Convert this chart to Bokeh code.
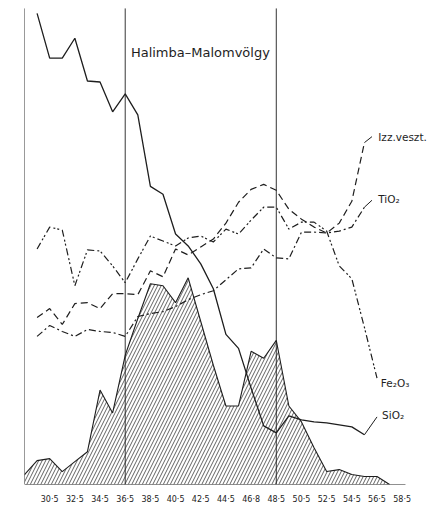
from bokeh.plotting import figure
from bokeh.models import Range1d, FixedTicker, Label
from bokeh.embed import file_html
from bokeh.resources import INLINE

# depth positions (x) of the samples
depth = [29.5, 30.5, 31.5, 32.5, 33.5, 34.5, 35.5, 36.5, 37.5, 38.5, 39.5, 40.5, 41.5,
         42.5, 43.5, 44.5, 45.5, 46.5, 47.5, 48.5, 49.5, 50.5, 51.5, 52.5, 53.5, 54.5, 55.5]

# relative values (arbitrary vertical units)
sio2 = [474, 429, 429, 449, 406, 405, 375, 393, 372, 300, 292, 252, 240,
        222, 197, 151, 137, 97, 59, 52, 69, 65, 63, 62, 60, 58, 50]
izz = [168, 177, 161, 182, 183, 177, 192, 192, 191, 215, 209, 237, 231,
       239, 247, 263, 284, 297, 302, 296, 277, 267, 259, 253, 263, 285, 344]
tio2 = [149, 160, 154, 149, 156, 154, 153, 149, 169, 172, 174, 179, 186,
        191, 195, 206, 217, 218, 237, 228, 227, 254, 254, 253, 255, 259, 279]
fe_depth = depth + [56.5]
fe2o3 = [237, 259, 256, 200, 236, 235, 220, 203, 227, 250, 245, 240, 248,
         250, 244, 257, 252, 266, 279, 279, 257, 264, 264, 255, 220, 207, 158, 107]

# hatched (shaded) profile
h_depth = [28.5, 29.5, 30.5, 31.5, 32.5, 33.5, 34.5, 35.5, 36.5, 37.5, 38.5, 39.5, 40.5, 41.5,
           42.5, 43.5, 44.5, 45.5, 46.5, 47.5, 48.5, 49.5, 50.5, 51.5, 52.5, 53.5, 54.5,
           55.5, 56.5, 57.5]
h_vals = [10, 24, 26, 13, 23, 33, 95, 72, 130, 167, 202, 200, 183, 208,
          164, 120, 79, 79, 134, 127, 145, 79, 63, 37, 13, 15, 10, 8, 8, 0]

# boundary lines
bounds = [28.5, 36.5, 48.5]

tick_pos = [30.5, 32.5, 34.5, 36.5, 38.5, 40.5, 42.5, 44.5, 46.5, 48.5, 50.5, 52.5, 54.5, 56.5, 58.5]
tick_labels = ["30·5", "32·5", "34·5", "36·5", "38·5", "40·5", "42·5", "44·5", "46·8",
               "48·5", "50·5", "52·5", "54·5", "56·5", "58·5"]
axis_start, axis_end = 28.5, 58.76

# series labels and their anchor positions
series_labels = ["Izz.veszt.", "TiO₂", "Fe₂O₃", "SiO₂"]
label_x = [56.6, 56.6, 56.8, 56.9]
label_y = [350, 287, 102, 70]
title_text = "Halimba–Malomvölgy"

TOP = 479
YMAX = 487

p = figure(width=430, height=506, output_backend="svg", toolbar_location=None,
           x_range=Range1d(28.5, 60.59), y_range=Range1d(0, YMAX),
           min_border_left=24, min_border_right=2, min_border_top=0, min_border_bottom=19)
p.outline_line_color = None
p.xgrid.visible = False
p.ygrid.visible = False
p.yaxis.visible = False
p.background_fill_color = "white"

ax = p.xaxis[0]
ax.ticker = FixedTicker(ticks=tick_pos)
ax.major_label_overrides = {t: l for t, l in zip(tick_pos, tick_labels)}
ax.major_tick_out = 0
ax.major_tick_in = 0
ax.minor_tick_out = 0
ax.minor_tick_in = 0
ax.major_label_standoff = 10
ax.major_label_text_font = "DejaVu Sans"
ax.major_label_text_font_size = "8px"
ax.major_label_text_color = "#222222"
ax.axis_line_color = None

INK = "#1e1e1e"

# baseline (drawn only over the data span)
p.segment(x0=[axis_start], y0=[0], x1=[axis_end], y1=[0], line_color="#222222", line_width=1.2)

# hatched area
p.varea(x=h_depth, y1=[0] * len(h_depth), y2=h_vals, fill_color=None,
        hatch_pattern="/", hatch_color=INK, hatch_weight=0.7, hatch_scale=7)
p.line(h_depth, h_vals, line_color=INK, line_width=1.1)

# vertical boundaries
p.segment(x0=bounds, y0=[0] * 3, x1=bounds, y1=[TOP] * 3, line_color=INK, line_width=0.9)

# series
p.line(depth, sio2, line_color=INK, line_width=1.3)
p.line(depth, izz, line_color=INK, line_width=1.2, line_dash="7 4")
p.line(depth, tio2, line_color=INK, line_width=1.2, line_dash="7 3 2 3")
p.line(fe_depth, fe2o3, line_color=INK, line_width=1.2, line_dash="7 3 2 2 2 3")

# leaders to labels
p.segment(x0=[55.5, 55.5, 55.5], y0=[izz[-1], tio2[-1], sio2[-1]],
          x1=[56.1, 56.1, 56.5], y1=[350, 286, 68], line_color=INK, line_width=1)

for lx, ly, lt in zip(label_x, label_y, series_labels):
    p.add_layout(Label(x=lx, y=ly, text=lt, text_font="DejaVu Sans", text_font_size="10.5px",
                       text_color=INK, text_baseline="middle", text_align="left"))

p.add_layout(Label(x=42.47, y=435, text=title_text, text_font="DejaVu Sans",
                   text_font_size="13px", text_color=INK,
                   text_baseline="middle", text_align="center"))

open("out.html", "w").write(file_html(p, INLINE))
